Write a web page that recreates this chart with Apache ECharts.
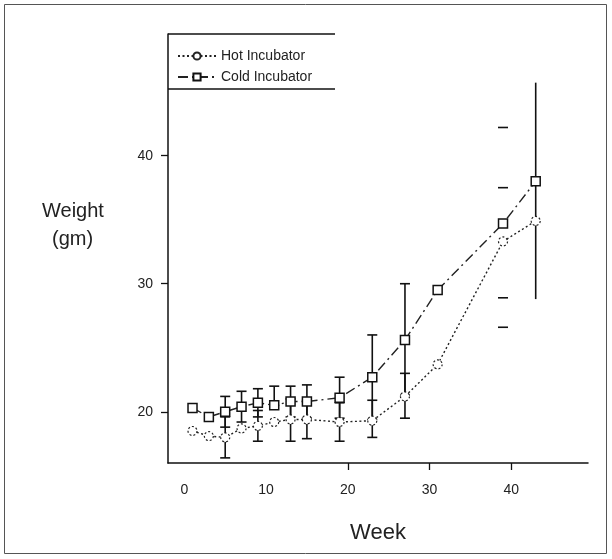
<!DOCTYPE html>
<html>
<head>
<meta charset="utf-8">
<script src="https://cdn.jsdelivr.net/npm/echarts@6/dist/echarts.min.js"></script>
<style>
html,body{margin:0;padding:0;background:#fff;}
#chart{width:612px;height:559px;}
</style>
</head>
<body>
<div id="chart"></div>
<script>
// ---- data ----
const weeks = [1, 3, 5, 7, 9, 11, 13, 15, 19, 23, 27, 31, 39, 43];
const hotMean  = [18.5, 18.1, 18.0, 18.7, 18.9, 19.2, 19.4, 19.4, 19.2, 19.3, 21.2, 23.7, 33.3, 34.9];
const hotLow   = [null, null, 16.4, null, 17.7, null, 17.7, 17.9, 17.7, 18.0, 19.5, null, 28.9, null];
const hotHigh  = [null, null, 19.6, null, 20.1, null, 21.0, 20.9, 20.7, 20.9, 23.0, null, 37.5, null];
const coldMean = [20.3, 19.6, 20.0, 20.4, 20.7, 20.5, 20.8, 20.8, 21.1, 22.7, 25.6, 29.5, 34.7, 38.0];
const coldLow  = [null, null, 18.8, 19.2, 19.6, null, 19.6, 19.5, 19.5, 19.4, 21.3, null, 26.6, 28.8];
const coldHigh = [null, null, 21.2, 21.6, 21.8, 22.0, 22.0, 22.1, 22.7, 26.0, 30.0, null, 42.2, 45.7];
const xTickLabels = [0, 10, 20, 30, 40];
const xTickMarks = [20, 30, 40];
const yTickLabels = [20, 30, 40];
const seriesNames = ['Hot Incubator', 'Cold Incubator'];
// style config
const capsOnlyWeeks = [39];
const noCapWeeks = [43];

const FONT = '"Liberation Sans", Arial, sans-serif';

function pairs(xs, ys) { return xs.map((x, i) => [x, ys[i]]); }
function errData(xs, mean, lo, hi) {
  const out = [];
  xs.forEach((x, i) => {
    if (lo[i] == null && hi[i] == null) return;
    out.push([x, lo[i] == null ? mean[i] : lo[i], hi[i] == null ? mean[i] : hi[i]]);
  });
  return out;
}
function renderErr(params, api) {
  const x = api.value(0);
  const lo = api.coord([x, api.value(1)]);
  const hi = api.coord([x, api.value(2)]);
  const hw = 5;
  const style = { stroke: '#111', lineWidth: 1.6, fill: null };
  const children = [];
  const capsOnly = capsOnlyWeeks.indexOf(x) >= 0;
  const noCap = noCapWeeks.indexOf(x) >= 0;
  if (!capsOnly) children.push({ type: 'line', shape: { x1: lo[0], y1: lo[1], x2: hi[0], y2: hi[1] }, style });
  if (!noCap) {
    children.push({ type: 'line', shape: { x1: lo[0] - hw, y1: lo[1], x2: lo[0] + hw, y2: lo[1] }, style });
    children.push({ type: 'line', shape: { x1: hi[0] - hw, y1: hi[1], x2: hi[0] + hw, y2: hi[1] }, style });
  }
  return { type: 'group', children };
}

const chart = echarts.init(document.getElementById('chart'), null, { renderer: 'canvas' });
chart.setOption({
  animation: false,
  backgroundColor: '#fff',
  textStyle: { fontFamily: FONT },
  grid: { left: 168, right: 24, top: 34, bottom: 96 },
  legend: {
    data: seriesNames,
    orient: 'vertical',
    left: 172, top: 44,
    itemWidth: 38, itemHeight: 9, itemGap: 7,
    textStyle: { fontFamily: FONT, fontSize: 14, color: '#222' }
  },
  xAxis: {
    type: 'value', min: -2, max: 49.4,
    splitLine: { show: false },
    axisLine: { onZero: false, lineStyle: { color: '#111', width: 1.5 } },
    axisTick: { customValues: xTickMarks, length: 7, lineStyle: { color: '#111', width: 1.3 } },
    axisLabel: { customValues: xTickLabels, margin: 20, fontSize: 14, color: '#222', fontFamily: FONT },
    name: 'Week', nameLocation: 'middle', nameGap: 59,
    nameTextStyle: { fontSize: 22, color: '#222', fontFamily: FONT }
  },
  yAxis: {
    type: 'value', min: 16, max: 49.5,
    splitLine: { show: false },
    axisLine: { onZero: false, lineStyle: { color: '#111', width: 1.5 } },
    axisTick: { customValues: yTickLabels, length: 7, lineStyle: { color: '#111', width: 1.3 } },
    axisLabel: { customValues: yTickLabels, margin: 15, fontSize: 14, color: '#222', fontFamily: FONT }
  },
  graphic: [
    { type: 'rect', shape: { x: 4.5, y: 4.5, width: 602, height: 549 }, style: { fill: null, stroke: '#555', lineWidth: 1 }, silent: true },
    { type: 'line', shape: { x1: 168, y1: 34, x2: 335, y2: 34 }, style: { stroke: '#111', lineWidth: 1.5 }, silent: true },
    { type: 'line', shape: { x1: 168, y1: 89, x2: 335, y2: 89 }, style: { stroke: '#111', lineWidth: 1.5 }, silent: true },
    { type: 'text', left: 42, top: 201, style: { text: 'Weight', font: '20px ' + FONT, fill: '#222' } },
    { type: 'text', left: 52, top: 229, style: { text: '(gm)', font: '20px ' + FONT, fill: '#222' } }
  ],
  series: [
    {
      name: seriesNames[0], type: 'line', data: pairs(weeks, hotMean),
      symbol: 'circle', symbolSize: 9,
      itemStyle: { color: '#fff', borderColor: '#222', borderWidth: 1.2, borderType: [2, 2] },
      lineStyle: { color: '#222', width: 1.4, type: [2, 2.5] },
      z: 3
    },
    {
      name: seriesNames[1], type: 'line', data: pairs(weeks, coldMean),
      symbol: 'rect', symbolSize: 9,
      itemStyle: { color: '#fff', borderColor: '#111', borderWidth: 1.5 },
      lineStyle: { color: '#222', width: 1.4, type: [10, 4, 2, 4] },
      z: 3
    },
    {
      name: 'hotErr', type: 'custom', renderItem: renderErr,
      data: errData(weeks, hotMean, hotLow, hotHigh), z: 2, silent: true
    },
    {
      name: 'coldErr', type: 'custom', renderItem: renderErr,
      data: errData(weeks, coldMean, coldLow, coldHigh), z: 2, silent: true
    }
  ]
});
</script>
</body>
</html>
